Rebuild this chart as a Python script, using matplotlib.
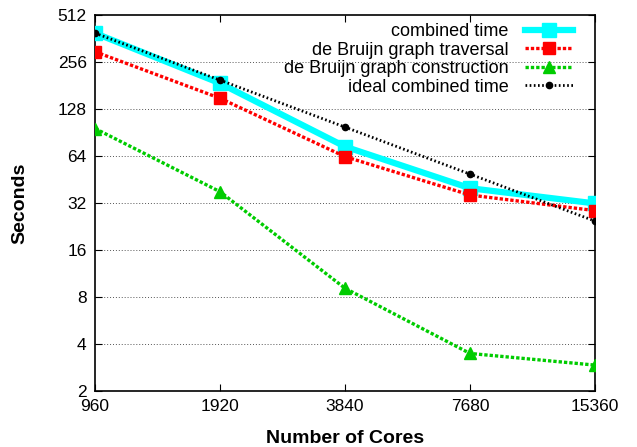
import matplotlib.pyplot as plt
from matplotlib.ticker import FixedLocator, FixedFormatter, NullLocator

plt.rcParams['font.family'] = ['Liberation Sans', 'DejaVu Sans']

cores = [960, 1920, 3840, 7680, 15360]
combined = [392, 187, 73.5, 39.8, 31.8]
traversal = [298, 150, 63.4, 36, 28.6]
construction = [96, 37.8, 9.1, 3.48, 2.93]
ideal = [392, 196, 98, 49, 24.5]

y_ticks = [2, 4, 8, 16, 32, 64, 128, 256, 512]


def main():
    fig = plt.figure(figsize=(6.37, 4.47), dpi=100)
    ax = fig.add_axes([95 / 637, 56 / 447, 500 / 637, 376 / 447])

    ax.set_xscale('log', base=2)
    ax.set_yscale('log', base=2)

    ax.plot(cores, combined, color='#00ffff', lw=4.5, marker='s', ms=10,
            label='combined time', zorder=3)
    ax.plot(cores, traversal, color='#ff0000', lw=2.4, ls=(0, (1, 0.6)),
            marker='s', ms=8, label='de Bruijn graph traversal', zorder=4)
    ax.plot(cores, construction, color='#00cc00', lw=2.4, ls=(0, (1, 0.6)),
            marker='^', ms=8, label='de Bruijn graph construction', zorder=4)
    ax.plot(cores, ideal, color='black', lw=2.0, ls=(0, (0.6, 0.9)),
            marker='o', ms=4.5, label='ideal combined time', zorder=5)

    ax.set_xlim(960, 15360)
    ax.set_ylim(2, 512)
    ax.xaxis.set_major_locator(FixedLocator(cores))
    ax.xaxis.set_major_formatter(FixedFormatter([str(c) for c in cores]))
    ax.xaxis.set_minor_locator(NullLocator())
    ax.yaxis.set_major_locator(FixedLocator(y_ticks))
    ax.yaxis.set_major_formatter(FixedFormatter([str(t) for t in y_ticks]))
    ax.yaxis.set_minor_locator(NullLocator())

    ax.tick_params(direction='in', top=True, right=True, length=5,
                   labelsize=12.5, pad=6)
    for t in y_ticks[1:-1]:
        ax.axhline(t, color='#555555', lw=0.7, ls=(0, (1, 2)), zorder=1)

    for s in ax.spines.values():
        s.set_linewidth(1.2)

    ax.set_xlabel('Number of Cores', fontsize=14, fontweight='bold', labelpad=11.5)
    ax.set_ylabel('Seconds', fontsize=14, fontweight='bold', labelpad=21)

    ax.legend(loc='upper right', bbox_to_anchor=(0.97, 0.997), frameon=False,
              markerfirst=False, fontsize=13, handlelength=2.66,
              handletextpad=0.9, labelspacing=0.08, borderaxespad=0)

    plt.savefig('out.png', dpi=100)


if __name__ == '__main__':
    main()
